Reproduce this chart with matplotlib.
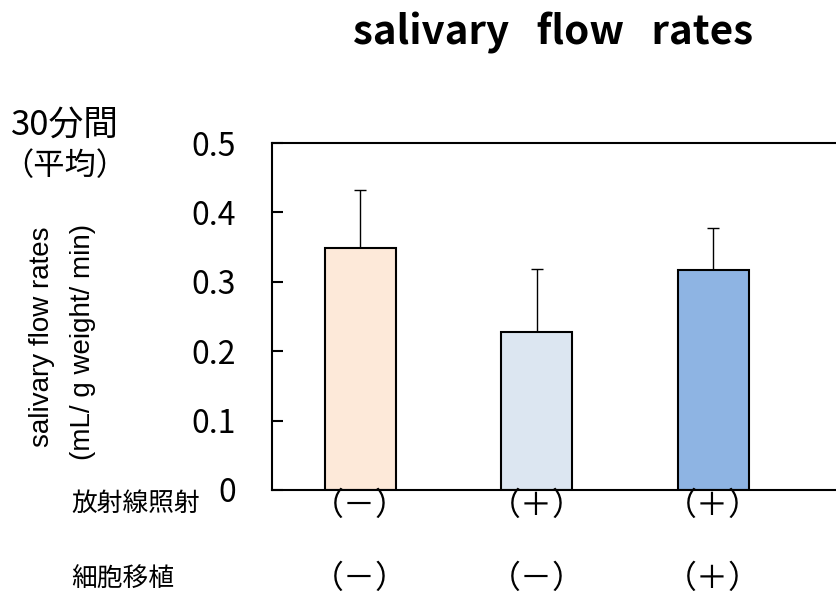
import matplotlib
matplotlib.use("Agg")
import matplotlib.pyplot as plt

plt.rcParams['font.family'] = ['Noto Sans CJK JP', 'DejaVu Sans']

# bar values
groups = [0, 1, 2]
means = [0.349, 0.227, 0.317]
errs = [0.083, 0.091, 0.060]
colors = ['#FDE9D9', '#DCE6F1', '#8EB4E3']

row1_name = '放射線照射'
row1 = ['（－）', '（＋）', '（＋）']
row2_name = '細胞移植'
row2 = ['（－）', '（－）', '（＋）']

yticks = [0, 0.1, 0.2, 0.3, 0.4, 0.5]

fig = plt.figure(figsize=(8.36, 5.98), dpi=100)
ax = fig.add_axes([272/836, 108/598, 566/836, 347/598])

ax.bar(groups, means, width=0.4, color=colors, edgecolor='black', linewidth=1.5, zorder=2)
ax.errorbar(groups, means, yerr=[[0, 0, 0], errs], fmt='none', ecolor='black',
            elinewidth=1, capsize=4.5, capthick=1, zorder=1)

ax.set_xlim(-0.5, 2.707)
ax.set_ylim(0, 0.5)
ax.set_yticks(yticks)
ax.set_yticklabels(['0', '0.1', '0.2', '0.3', '0.4', '0.5'])
ax.tick_params(axis='y', direction='in', length=8, width=1.5, labelsize=23, pad=26)
ax.set_xticks([])
for s in ['left', 'top', 'bottom']:
    ax.spines[s].set_linewidth(1.5)
ax.spines['right'].set_visible(False)

# group labels under the bars
tr = ax.get_xaxis_transform()
for g, a, b in zip(groups, row1, row2):
    ax.text(g, -0.045, a, transform=tr, ha='center', va='center', fontsize=23)
    ax.text(g, -0.255, b, transform=tr, ha='center', va='center', fontsize=23)
fig.text(71/836, 1 - 504/598, row1_name, ha='left', va='center', fontsize=18.5)
fig.text(71/836, 1 - 580/598, row2_name, ha='left', va='center', fontsize=18.5)

# axis annotation
fig.text(11/836, 1 - 125/598, '30分間', ha='left', va='center', fontsize=25)
fig.text(2/836, 1 - 166/598, '（平均）', ha='left', va='center', fontsize=22.5)
fig.text(42/836, 1 - 337/598, 'salivary flow rates', rotation=90, ha='center', va='center',
         fontsize=20, family='Liberation Sans')
fig.text(83/836, 1 - 342/598, '(mL/ g weight/ min)', rotation=90, ha='center', va='center',
         fontsize=20, family='Liberation Sans')

fig.text(553/836, 1 - 33/598, 'salivary   flow   rates', ha='center', va='center',
         fontsize=29, fontweight='bold')

fig.savefig('out.png', dpi=100)
